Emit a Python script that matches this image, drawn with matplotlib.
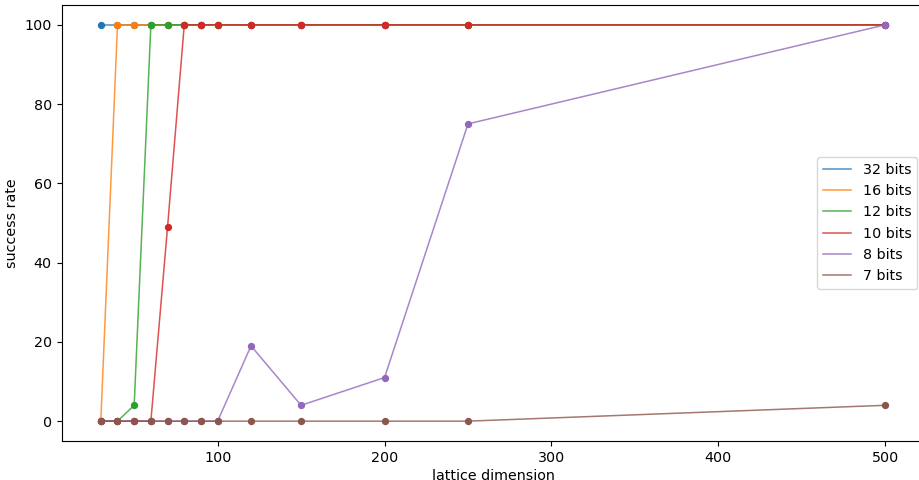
import matplotlib.pyplot as plt

dims = [30, 40, 50, 60, 70, 80, 90, 100, 120, 150, 200, 250, 500]
labels = ["32 bits", "16 bits", "12 bits", "10 bits", "8 bits", "7 bits"]
rate_32 = [100, 100, 100, 100, 100, 100, 100, 100, 100, 100, 100, 100, 100]
rate_16 = [0, 100, 100, 100, 100, 100, 100, 100, 100, 100, 100, 100, 100]
rate_12 = [0, 0, 4, 100, 100, 100, 100, 100, 100, 100, 100, 100, 100]
rate_10 = [0, 0, 0, 0, 49, 100, 100, 100, 100, 100, 100, 100, 100]
rate_8 = [0, 0, 0, 0, 0, 0, 0, 0, 19, 4, 11, 75, 100]
rate_7 = [0, 0, 0, 0, 0, 0, 0, 0, 0, 0, 0, 0, 4]

rates = [rate_32, rate_16, rate_12, rate_10, rate_8, rate_7]

FS = 10.3

fig, ax = plt.subplots(figsize=(9.19, 4.8), dpi=100)
for i, (lab, r) in enumerate(zip(labels, rates)):
	c = "C%d" % i
	ax.plot(dims, r, color=c, alpha=0.8, linewidth=1.1, label=lab)
	ax.scatter(dims, r, color=c, s=18, zorder=3)

ax.set_xlabel("lattice dimension", fontsize=FS, labelpad=3)
ax.set_ylabel("success rate", fontsize=FS)
ax.tick_params(labelsize=FS)
ax.legend(fontsize=FS, loc="center right")
# axes runs slightly past the right edge, as in the reference
fig.subplots_adjust(left=0.067, right=1.006, top=0.9896, bottom=0.0813)
fig.savefig("out.png")
